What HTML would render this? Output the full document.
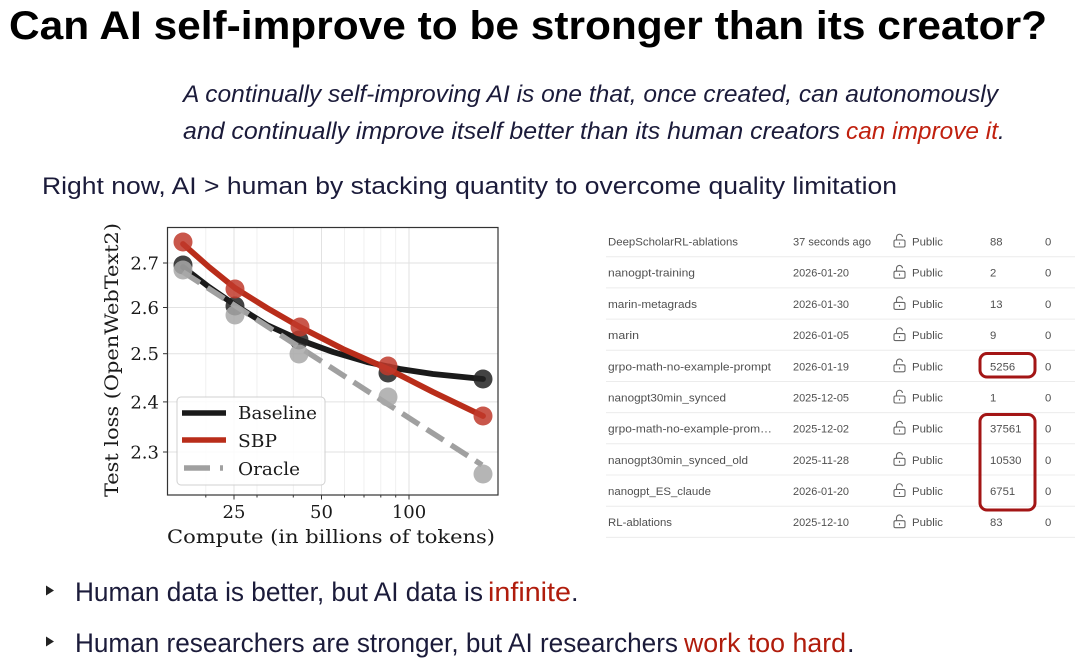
<!DOCTYPE html>
<html>
<head>
<meta charset="utf-8">
<style>
  html, body { margin: 0; padding: 0; background: #ffffff; }
  body { width: 1080px; height: 662px; overflow: hidden; }
  svg { display: block; }
  .sans { font-family: "Liberation Sans", "DejaVu Sans", sans-serif; }
  .serif { font-family: "DejaVu Serif", "Liberation Serif", serif; }
</style>
</head>
<body>
<svg width="1080" height="662" viewBox="0 0 1080 662" xmlns="http://www.w3.org/2000/svg">
  <rect x="0" y="0" width="1080" height="662" fill="#ffffff"/>

  <!-- Title -->
  <text class="sans" x="9" y="39" font-size="40" font-weight="bold" fill="#000" textLength="1038" lengthAdjust="spacingAndGlyphs">Can AI self-improve to be stronger than its creator?</text>

  <!-- Italic definition -->
  <text class="sans" x="183" y="102" font-size="24" font-style="italic" fill="#1b1b3a" textLength="815" lengthAdjust="spacingAndGlyphs">A continually self-improving AI is one that, once created, can autonomously</text>
  <text class="sans" x="183" y="139" font-size="24" font-style="italic" fill="#1b1b3a" textLength="657" lengthAdjust="spacingAndGlyphs">and continually improve itself better than its human creators</text>
  <text class="sans" x="846" y="139" font-size="24" font-style="italic" fill="#c0200e" textLength="152" lengthAdjust="spacingAndGlyphs">can improve it</text>
  <text class="sans" x="998" y="139" font-size="24" font-style="italic" fill="#1b1b3a">.</text>

  <!-- Right now line -->
  <text class="sans" x="42" y="194" font-size="24" fill="#1b1b3a" textLength="855" lengthAdjust="spacingAndGlyphs">Right now, AI &gt; human by stacking quantity to overcome quality limitation</text>

  <!-- ============ CHART ============ -->
  <g stroke="#ececec" stroke-width="0.8">
    <line x1="205.8" y1="227.5" x2="205.8" y2="495"/>
    <line x1="257" y1="227.5" x2="257" y2="495"/>
    <line x1="293.3" y1="227.5" x2="293.3" y2="495"/>
    <line x1="344.5" y1="227.5" x2="344.5" y2="495"/>
    <line x1="364" y1="227.5" x2="364" y2="495"/>
    <line x1="380.8" y1="227.5" x2="380.8" y2="495"/>
    <line x1="395.7" y1="227.5" x2="395.7" y2="495"/>
  </g>
  <g stroke="#e2e2e2" stroke-width="1">
    <line x1="234" y1="227.5" x2="234" y2="495"/>
    <line x1="321.5" y1="227.5" x2="321.5" y2="495"/>
    <line x1="409" y1="227.5" x2="409" y2="495"/>
    <line x1="167.5" y1="263" x2="498" y2="263"/>
    <line x1="167.5" y1="307.5" x2="498" y2="307.5"/>
    <line x1="167.5" y1="353.7" x2="498" y2="353.7"/>
    <line x1="167.5" y1="401.9" x2="498" y2="401.9"/>
    <line x1="167.5" y1="452" x2="498" y2="452"/>
  </g>

  <!-- Baseline -->
  <polyline points="183,267 209,287 235,305 267,325 300,340 333,352 367,362 400,369 433,374 483,379" fill="none" stroke="#1a1a1a" stroke-width="5.8" stroke-linejoin="round" stroke-linecap="round"/>
  <g fill="#222" fill-opacity="0.85">
    <circle cx="183" cy="265" r="9.5"/>
    <circle cx="235" cy="306" r="9.5"/>
    <circle cx="299" cy="340" r="9.5"/>
    <circle cx="388" cy="373" r="9.5"/>
    <circle cx="483" cy="379" r="9.5"/>
  </g>

  <!-- SBP -->
  <polyline points="183,244 209,267 235,288 267,308 300,327 343,349 388,369 433,392 483,416" fill="none" stroke="#b92d1a" stroke-width="5.8" stroke-linejoin="round" stroke-linecap="round"/>
  <g fill="#c0392b" fill-opacity="0.85">
    <circle cx="183" cy="242" r="9.5"/>
    <circle cx="235" cy="289" r="9.5"/>
    <circle cx="300" cy="327" r="9.5"/>
    <circle cx="388" cy="366" r="9.5"/>
    <circle cx="483" cy="416" r="9.5"/>
  </g>

  <!-- Oracle -->
  <line x1="183" y1="272" x2="482" y2="465" stroke="#a0a0a0" stroke-width="5.5" stroke-dasharray="20 9"/>
  <g fill="#a8a8a8" fill-opacity="0.85">
    <circle cx="183" cy="270" r="9.5"/>
    <circle cx="235" cy="315" r="9.5"/>
    <circle cx="299" cy="354" r="9.5"/>
    <circle cx="388" cy="397" r="9.5"/>
    <circle cx="483" cy="474" r="9.5"/>
  </g>

  <!-- Legend -->
  <rect x="177" y="397" width="148" height="88" rx="4" ry="4" fill="#ffffff" fill-opacity="0.85" stroke="#d0d0d0" stroke-width="1"/>
  <line x1="182" y1="413" x2="226" y2="413" stroke="#1a1a1a" stroke-width="5.5"/>
  <line x1="182" y1="440" x2="226" y2="440" stroke="#b92d1a" stroke-width="5.5"/>
  <line x1="184" y1="468" x2="210" y2="468" stroke="#a0a0a0" stroke-width="5.5"/>
  <line x1="220" y1="468" x2="223" y2="468" stroke="#a0a0a0" stroke-width="5.5"/>
  <text class="serif" x="238" y="419" font-size="18" fill="#1a1a1a" textLength="79" lengthAdjust="spacingAndGlyphs">Baseline</text>
  <text class="serif" x="238" y="447" font-size="18" fill="#1a1a1a" textLength="39" lengthAdjust="spacingAndGlyphs">SBP</text>
  <text class="serif" x="238" y="475" font-size="18" fill="#1a1a1a" textLength="62" lengthAdjust="spacingAndGlyphs">Oracle</text>

  <!-- Axes spines -->
  <rect x="167.5" y="227.5" width="330.5" height="267.5" fill="none" stroke="#333" stroke-width="1.2"/>

  <!-- ticks -->
  <g stroke="#333" stroke-width="1">
    <line x1="163" y1="263" x2="167.5" y2="263"/>
    <line x1="163" y1="307.5" x2="167.5" y2="307.5"/>
    <line x1="163" y1="353.7" x2="167.5" y2="353.7"/>
    <line x1="163" y1="401.9" x2="167.5" y2="401.9"/>
    <line x1="163" y1="452" x2="167.5" y2="452"/>
    <line x1="234" y1="495" x2="234" y2="499.5"/>
    <line x1="321.5" y1="495" x2="321.5" y2="499.5"/>
    <line x1="409" y1="495" x2="409" y2="499.5"/>
    <line x1="205.8" y1="495" x2="205.8" y2="497.5"/>
    <line x1="257" y1="495" x2="257" y2="497.5"/>
    <line x1="293.3" y1="495" x2="293.3" y2="497.5"/>
    <line x1="344.5" y1="495" x2="344.5" y2="497.5"/>
    <line x1="364" y1="495" x2="364" y2="497.5"/>
    <line x1="380.8" y1="495" x2="380.8" y2="497.5"/>
    <line x1="395.7" y1="495" x2="395.7" y2="497.5"/>
  </g>

  <!-- tick labels -->
  <g class="serif" font-size="18" fill="#1a1a1a" text-anchor="end">
    <text x="159" y="269.5">2.7</text>
    <text x="159" y="314">2.6</text>
    <text x="159" y="360.2">2.5</text>
    <text x="159" y="408.4">2.4</text>
    <text x="159" y="458.5">2.3</text>
  </g>
  <g class="serif" font-size="18" fill="#1a1a1a" text-anchor="middle">
    <text x="234" y="518">25</text>
    <text x="321.5" y="518">50</text>
    <text x="409" y="518">100</text>
  </g>

  <!-- axis labels -->
  <text class="serif" x="167" y="543" font-size="18.5" fill="#1a1a1a" textLength="328" lengthAdjust="spacingAndGlyphs">Compute (in billions of tokens)</text>
  <text class="serif" transform="translate(118,497) rotate(-90)" x="0" y="0" font-size="18.5" fill="#1a1a1a" textLength="274" lengthAdjust="spacingAndGlyphs">Test loss (OpenWebText2)</text>

  <!-- ============ TABLE ============ -->
  <g stroke="#ececec" stroke-width="1">
    <line x1="606" y1="256.7" x2="1075" y2="256.7"/>
    <line x1="606" y1="287.9" x2="1075" y2="287.9"/>
    <line x1="606" y1="319.1" x2="1075" y2="319.1"/>
    <line x1="606" y1="350.3" x2="1075" y2="350.3"/>
    <line x1="606" y1="381.5" x2="1075" y2="381.5"/>
    <line x1="606" y1="412.6" x2="1075" y2="412.6"/>
    <line x1="606" y1="443.8" x2="1075" y2="443.8"/>
    <line x1="606" y1="475.0" x2="1075" y2="475.0"/>
    <line x1="606" y1="506.2" x2="1075" y2="506.2"/>
    <line x1="606" y1="537.4" x2="1075" y2="537.4"/>
  </g>

  <g class="sans" font-size="11.3" fill="#505050">
    <text x="608" y="245.5" textLength="130" lengthAdjust="spacingAndGlyphs">DeepScholarRL-ablations</text>
    <text x="608" y="276.7" textLength="87" lengthAdjust="spacingAndGlyphs">nanogpt-training</text>
    <text x="608" y="307.9" textLength="89" lengthAdjust="spacingAndGlyphs">marin-metagrads</text>
    <text x="608" y="339.1" textLength="31" lengthAdjust="spacingAndGlyphs">marin</text>
    <text x="608" y="370.3" textLength="163" lengthAdjust="spacingAndGlyphs">grpo-math-no-example-prompt</text>
    <text x="608" y="401.5" textLength="118" lengthAdjust="spacingAndGlyphs">nanogpt30min_synced</text>
    <text x="608" y="432.6" textLength="164" lengthAdjust="spacingAndGlyphs">grpo-math-no-example-prom…</text>
    <text x="608" y="463.8" textLength="140" lengthAdjust="spacingAndGlyphs">nanogpt30min_synced_old</text>
    <text x="608" y="495.0" textLength="103" lengthAdjust="spacingAndGlyphs">nanogpt_ES_claude</text>
    <text x="608" y="526.2" textLength="64" lengthAdjust="spacingAndGlyphs">RL-ablations</text>
    <text x="793" y="245.5" textLength="78" lengthAdjust="spacingAndGlyphs">37 seconds ago</text>
    <text x="793" y="276.7" textLength="56" lengthAdjust="spacingAndGlyphs">2026-01-20</text>
    <text x="793" y="307.9" textLength="56" lengthAdjust="spacingAndGlyphs">2026-01-30</text>
    <text x="793" y="339.1" textLength="56" lengthAdjust="spacingAndGlyphs">2026-01-05</text>
    <text x="793" y="370.3" textLength="56" lengthAdjust="spacingAndGlyphs">2026-01-19</text>
    <text x="793" y="401.5" textLength="56" lengthAdjust="spacingAndGlyphs">2025-12-05</text>
    <text x="793" y="432.6" textLength="56" lengthAdjust="spacingAndGlyphs">2025-12-02</text>
    <text x="793" y="463.8" textLength="56" lengthAdjust="spacingAndGlyphs">2025-11-28</text>
    <text x="793" y="495.0" textLength="56" lengthAdjust="spacingAndGlyphs">2026-01-20</text>
    <text x="793" y="526.2" textLength="56" lengthAdjust="spacingAndGlyphs">2025-12-10</text>
    <text x="912" y="245.5" textLength="31" lengthAdjust="spacingAndGlyphs">Public</text>
    <text x="912" y="276.7" textLength="31" lengthAdjust="spacingAndGlyphs">Public</text>
    <text x="912" y="307.9" textLength="31" lengthAdjust="spacingAndGlyphs">Public</text>
    <text x="912" y="339.1" textLength="31" lengthAdjust="spacingAndGlyphs">Public</text>
    <text x="912" y="370.3" textLength="31" lengthAdjust="spacingAndGlyphs">Public</text>
    <text x="912" y="401.5" textLength="31" lengthAdjust="spacingAndGlyphs">Public</text>
    <text x="912" y="432.6" textLength="31" lengthAdjust="spacingAndGlyphs">Public</text>
    <text x="912" y="463.8" textLength="31" lengthAdjust="spacingAndGlyphs">Public</text>
    <text x="912" y="495.0" textLength="31" lengthAdjust="spacingAndGlyphs">Public</text>
    <text x="912" y="526.2" textLength="31" lengthAdjust="spacingAndGlyphs">Public</text>
    <text x="990" y="245.5">88</text>
    <text x="990" y="276.7">2</text>
    <text x="990" y="307.9">13</text>
    <text x="990" y="339.1">9</text>
    <text x="990" y="370.3">5256</text>
    <text x="990" y="401.5">1</text>
    <text x="990" y="432.6">37561</text>
    <text x="990" y="463.8">10530</text>
    <text x="990" y="495.0">6751</text>
    <text x="990" y="526.2">83</text>
    <text x="1045" y="245.5">0</text>
    <text x="1045" y="276.7">0</text>
    <text x="1045" y="307.9">0</text>
    <text x="1045" y="339.1">0</text>
    <text x="1045" y="370.3">0</text>
    <text x="1045" y="401.5">0</text>
    <text x="1045" y="432.6">0</text>
    <text x="1045" y="463.8">0</text>
    <text x="1045" y="495.0">0</text>
    <text x="1045" y="526.2">0</text>
  </g>

  <!-- lock icons -->
  <defs>
    <g id="lock">
      <rect x="894" y="-1.5" width="11" height="7" rx="1.5" fill="none" stroke="#666" stroke-width="1.1"/>
      <path d="M896.5,-1.5 V-4 A3,3 0 0 1 902.5,-4.5" fill="none" stroke="#666" stroke-width="1.1"/>
      <line x1="899.5" y1="1" x2="899.5" y2="3" stroke="#666" stroke-width="1.1"/>
    </g>
  </defs>
  <use href="#lock" transform="translate(0,241.5)"/>
  <use href="#lock" transform="translate(0,272.7)"/>
  <use href="#lock" transform="translate(0,303.9)"/>
  <use href="#lock" transform="translate(0,335.1)"/>
  <use href="#lock" transform="translate(0,366.3)"/>
  <use href="#lock" transform="translate(0,397.5)"/>
  <use href="#lock" transform="translate(0,428.6)"/>
  <use href="#lock" transform="translate(0,459.8)"/>
  <use href="#lock" transform="translate(0,491.0)"/>
  <use href="#lock" transform="translate(0,522.2)"/>

  <!-- red highlight boxes -->
  <rect x="980" y="353.5" width="55" height="23.5" rx="7" ry="7" fill="none" stroke="#a31515" stroke-width="3"/>
  <rect x="980" y="414.5" width="55" height="95.5" rx="7" ry="7" fill="none" stroke="#a31515" stroke-width="3"/>

  <!-- ============ BULLETS ============ -->
  <path d="M46,585.5 L54,590.5 L46,595.5 Z" fill="#222"/>
  <path d="M46,636.5 L54,641.5 L46,646.5 Z" fill="#222"/>

  <text class="sans" x="75" y="601" font-size="27" fill="#1b1b3a" textLength="408" lengthAdjust="spacingAndGlyphs">Human data is better, but AI data is</text>
  <text class="sans" x="488" y="601" font-size="27" fill="#b01c0c" textLength="83" lengthAdjust="spacingAndGlyphs">infinite</text>
  <text class="sans" x="571" y="601" font-size="27" fill="#1b1b3a">.</text>

  <text class="sans" x="75" y="652" font-size="27" fill="#1b1b3a" textLength="603" lengthAdjust="spacingAndGlyphs">Human researchers are stronger, but AI researchers</text>
  <text class="sans" x="684" y="652" font-size="27" fill="#b01c0c" textLength="162" lengthAdjust="spacingAndGlyphs">work too hard</text>
  <text class="sans" x="847" y="652" font-size="27" fill="#1b1b3a">.</text>
</svg>
</body>
</html>
